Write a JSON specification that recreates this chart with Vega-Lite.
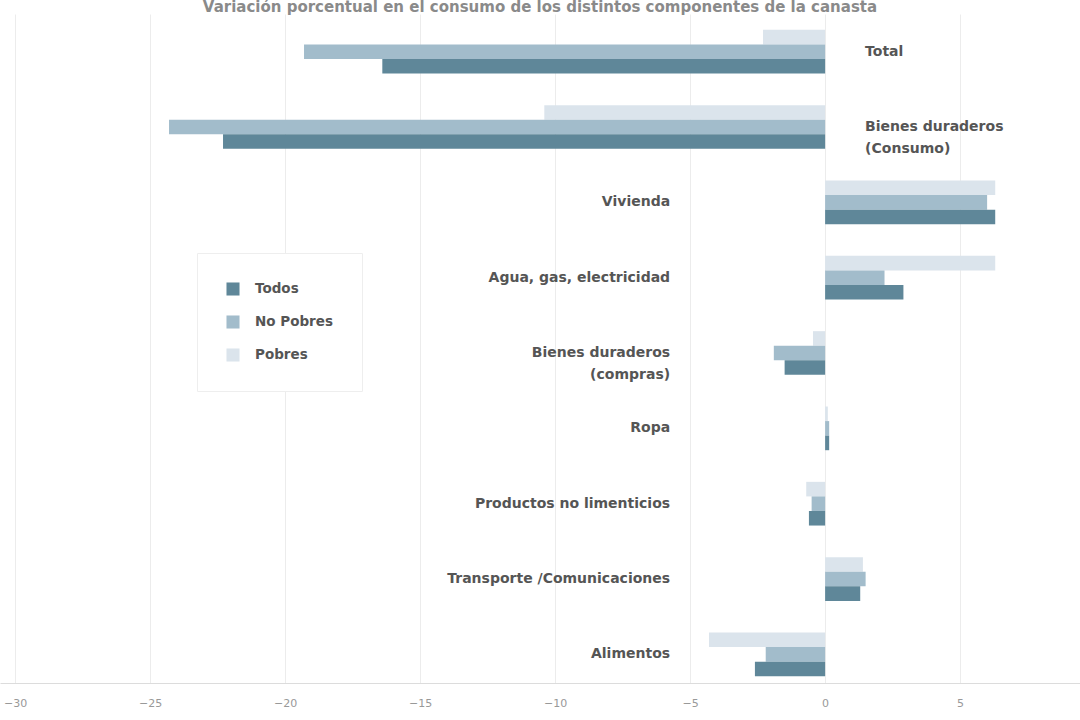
{
  "$schema": "https://vega.github.io/schema/vega-lite/v6.json",
  "width": 1080,
  "height": 669,
  "padding": {"left": 0, "top": 0, "right": 0, "bottom": 0},
  "background": "white",
  "title": {"text": "Variación porcentual en el consumo de los distintos componentes de la canasta", "fontSize": 15, "font": "DejaVu Sans", "fontWeight": "bold", "color": "#8a8a8a", "offset": -5, "dy": -4, "anchor": "middle"},
  "config": {"view": {"stroke": null}, "font": "DejaVu Sans"},
  "data": {"values": [
    {"category": "Total", "group": "Pobres", "value": -2.3},
    {"category": "Total", "group": "No Pobres", "value": -19.3},
    {"category": "Total", "group": "Todos", "value": -16.4},
    {"category": "Bienes duraderos\n(Consumo)", "group": "Pobres", "value": -10.4},
    {"category": "Bienes duraderos\n(Consumo)", "group": "No Pobres", "value": -24.3},
    {"category": "Bienes duraderos\n(Consumo)", "group": "Todos", "value": -22.3},
    {"category": "Vivienda", "group": "Pobres", "value": 6.3},
    {"category": "Vivienda", "group": "No Pobres", "value": 6.0},
    {"category": "Vivienda", "group": "Todos", "value": 6.3},
    {"category": "Agua, gas, electricidad", "group": "Pobres", "value": 6.3},
    {"category": "Agua, gas, electricidad", "group": "No Pobres", "value": 2.2},
    {"category": "Agua, gas, electricidad", "group": "Todos", "value": 2.9},
    {"category": "Bienes duraderos\n(compras)", "group": "Pobres", "value": -0.45},
    {"category": "Bienes duraderos\n(compras)", "group": "No Pobres", "value": -1.9},
    {"category": "Bienes duraderos\n(compras)", "group": "Todos", "value": -1.5},
    {"category": "Ropa", "group": "Pobres", "value": 0.1},
    {"category": "Ropa", "group": "No Pobres", "value": 0.15},
    {"category": "Ropa", "group": "Todos", "value": 0.15},
    {"category": "Productos no limenticios", "group": "Pobres", "value": -0.7},
    {"category": "Productos no limenticios", "group": "No Pobres", "value": -0.5},
    {"category": "Productos no limenticios", "group": "Todos", "value": -0.6},
    {"category": "Transporte /Comunicaciones", "group": "Pobres", "value": 1.4},
    {"category": "Transporte /Comunicaciones", "group": "No Pobres", "value": 1.5},
    {"category": "Transporte /Comunicaciones", "group": "Todos", "value": 1.3},
    {"category": "Alimentos", "group": "Pobres", "value": -4.3},
    {"category": "Alimentos", "group": "No Pobres", "value": -2.2},
    {"category": "Alimentos", "group": "Todos", "value": -2.6}
  ]},
  "encoding": {
    "y": {"field": "category", "type": "nominal", "sort": null,
          "scale": {"paddingInner": 0.42, "paddingOuter": 0.15, "align": 0.7}, "axis": null}
  },
  "layer": [
    {
      "mark": {"type": "bar"},
      "encoding": {
        "x": {"field": "value", "type": "quantitative",
              "scale": {"domain": [-30.56, 9.44], "nice": false, "zero": false},
              "axis": {"title": null, "values": [-30, -25, -20, -15, -10, -5, 0, 5],
                       "format": "d", "grid": true, "gridColor": "#ececec",
                       "domainColor": "#dcdcdc", "ticks": false, "labelPadding": 14,
                       "labelColor": "#999", "labelFontSize": 11}},
        "yOffset": {"field": "group", "type": "nominal",
                    "scale": {"domain": ["Pobres", "No Pobres", "Todos"], "paddingInner": 0}},
        "color": {"field": "group", "type": "nominal",
                  "scale": {"domain": ["Todos", "No Pobres", "Pobres"],
                            "range": ["#5f8799", "#a2bccb", "#dbe4ec"]},
                  "legend": {"title": null, "orient": "none", "legendX": 197, "legendY": 239,
                             "padding": 29, "symbolType": "square", "symbolSize": 170,
                             "symbolStrokeWidth": 0, "labelFontSize": 13.5, "labelFontWeight": "bold",
                             "labelColor": "#555", "rowPadding": 19, "strokeColor": "#eeeeee",
                             "fillColor": "white", "labelOffset": 15}}
      }
    },
    {
      "transform": [{"filter": "datum.group == 'Todos' && datum.value < -5"}],
      "mark": {"type": "text", "align": "left", "baseline": "middle", "dx": 40,
               "lineBreak": "\n", "fontSize": 14, "fontWeight": "bold", "color": "#555", "lineHeight": 22},
      "encoding": {"x": {"datum": 0}, "text": {"field": "category"}}
    },
    {
      "transform": [{"filter": "datum.group == 'Todos' && datum.value >= -5"}],
      "mark": {"type": "text", "align": "right", "baseline": "middle", "dx": -155,
               "lineBreak": "\n", "fontSize": 14, "fontWeight": "bold", "color": "#555", "lineHeight": 22},
      "encoding": {"x": {"datum": 0}, "text": {"field": "category"}}
    }
  ]
}
